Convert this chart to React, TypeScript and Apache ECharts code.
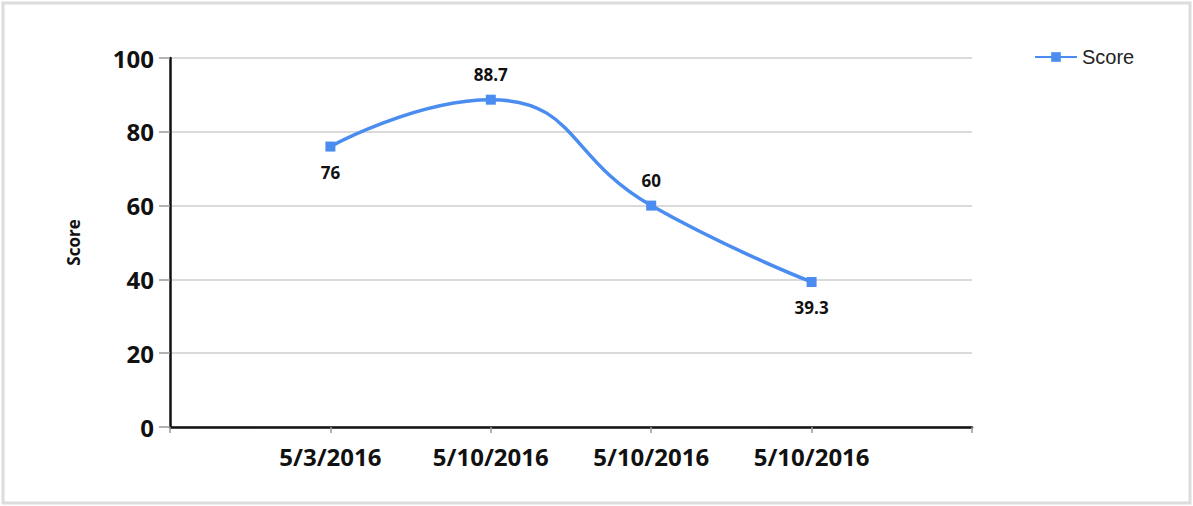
import React, { useEffect, useRef } from "react";
import * as echarts from "echarts";

const categories = ["", "5/3/2016", "5/10/2016", "5/10/2016", "5/10/2016", ""];
const scoreValues = [76, 88.7, 60, 39.3];
const scorePositions = [1, 2, 3, 4];
const labelPlacement = ["bottom", "top", "top", "bottom"];
const yTicks = [0, 20, 40, 60, 80, 100];

export default function App() {
  const ref = useRef<HTMLDivElement>(null);
  useEffect(() => {
    if (!ref.current) return;
    const chart = echarts.init(ref.current, undefined, { renderer: "svg" });
    const blue = "#4a8cf0";
    chart.setOption({
      animation: false,
      backgroundColor: "#ffffff",
      graphic: [
        {
          type: "rect",
          shape: { x: 3, y: 3, width: 1187, height: 500 },
          style: { fill: "none", stroke: "#dcdcdc", lineWidth: 3 },
          silent: true,
        },
      ],
      grid: { left: 170, right: 221, top: 58, bottom: 79, containLabel: false },
      legend: {
        left: 1029,
        top: 42,
        itemWidth: 42,
        itemHeight: 12,
        itemGap: 8,
        textStyle: { fontFamily: "Liberation Sans", fontSize: 20, color: "#222" },
        data: [{ name: "Score" }],
      },
      xAxis: {
        type: "value",
        min: 0,
        max: categories.length - 1,
        interval: 1,
        axisLine: { show: true, lineStyle: { color: "#111", width: 2.5 } },
        axisTick: { show: true, length: 6, lineStyle: { color: "#999", width: 1.5 } },
        splitLine: { show: false },
        axisLabel: {
          margin: 17,
          fontFamily: "Open Sans",
          fontWeight: "bold",
          fontSize: 24,
          color: "#111",
          showMinLabel: true,
          showMaxLabel: true,
          formatter: (v: number) => categories[Math.round(v)] ?? "",
        },
      },
      yAxis: {
        type: "value",
        min: yTicks[0],
        max: yTicks[yTicks.length - 1],
        interval: 20,
        name: "Score",
        nameLocation: "middle",
        nameRotate: 90,
        nameGap: 88,
        nameTextStyle: { fontFamily: "Open Sans", fontWeight: "bold", fontSize: 17, color: "#111" },
        axisLine: { show: true, lineStyle: { color: "#111", width: 2.5 } },
        axisTick: { show: true, length: 11, lineStyle: { color: "#999", width: 1.5 } },
        splitLine: { show: true, lineStyle: { color: "#dadada", width: 2 } },
        axisLabel: {
          margin: 16,
          fontFamily: "Open Sans",
          fontWeight: "bold",
          fontSize: 24,
          color: "#111",
        },
      },
      series: [
        {
          name: "Score",
          type: "line",
          smooth: 0.5,
          symbol: "rect",
          symbolSize: 10,
          itemStyle: { color: blue },
          lineStyle: { color: blue, width: 3.5 },
          data: scoreValues.map((v, i) => ({
            value: [scorePositions[i], v],
            label: {
              show: true,
              position: labelPlacement[i],
              distance: 12,
              formatter: String(v),
              fontFamily: "Open Sans",
              fontWeight: "bold",
              fontSize: 17,
              color: "#111",
            },
          })),
        },
      ],
    });
    return () => chart.dispose();
  }, []);
  return (
    <div
      ref={ref}
      style={{ position: "absolute", left: 0, top: 0, width: 1193, height: 506 }}
    />
  );
}
